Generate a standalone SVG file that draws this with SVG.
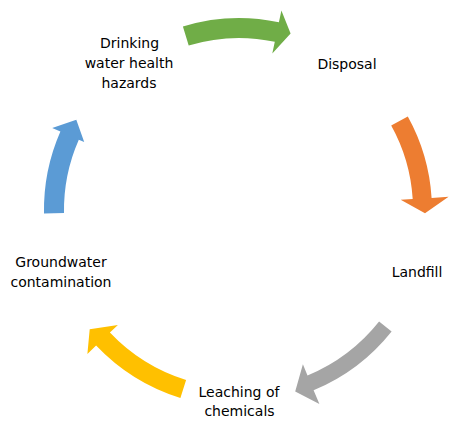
<svg xmlns="http://www.w3.org/2000/svg" width="459" height="428" viewBox="0 0 459 428">
  <style>
    .lbl { font-family: "DejaVu Sans", "Liberation Sans", sans-serif; font-size: 14px; fill: #000000; text-anchor: middle; }
    .arr { stroke: none; }
  </style>
  <rect x="0" y="0" width="459" height="428" fill="#ffffff"/>
  <g id="connectors">
    <path id="arrow-green" class="arr" fill="#70AD47" d="M182.9,26.4 A192,192 0 0 1 278.9,22.2 L281.4,10.5 L290.6,33.4 L272.3,53.5 L274.8,41.8 A172,172 0 0 0 188.7,45.5 Z"/>
    <path id="arrow-orange" class="arr" fill="#ED7D31" d="M407.8,116.4 A193,193 0 0 1 431.6,197.9 L448.6,196.8 L425,213.2 L400.7,199.8 L412.7,199.1 A174,174 0 0 0 391.2,125.6 Z"/>
    <path id="arrow-gray" class="arr" fill="#A5A5A5" d="M391.6,331.4 A195,195 0 0 1 313.6,390.2 L319.4,404 L295.2,391.5 L302.9,364.3 L307.5,375.4 A179,179 0 0 0 379.1,321.4 Z"/>
    <path id="arrow-yellow" class="arr" fill="#FFC000" d="M180.4,398.1 A197,197 0 0 1 96.1,345.6 L87.4,353.9 L89.7,329.2 L117.9,325 L109.9,332.5 A178,178 0 0 0 186.1,380 Z"/>
    <path id="arrow-blue" class="arr" fill="#5B9BD5" d="M44,213.4 A195,195 0 0 1 60.4,131.6 L52.2,128 L76.3,119.8 L84.2,142.1 L78.8,139.7 A175,175 0 0 0 64,213.1 Z"/>
  </g>
  <g id="node-drinking">
    <text class="lbl" x="129.5" y="48">Drinking</text>
    <text class="lbl" x="129" y="68">water health</text>
    <text class="lbl" x="129" y="88">hazards</text>
  </g>
  <g id="node-disposal">
    <text class="lbl" x="347" y="69">Disposal</text>
  </g>
  <g id="node-landfill">
    <text class="lbl" x="417" y="277">Landfill</text>
  </g>
  <g id="node-leaching">
    <text class="lbl" x="239" y="397">Leaching of</text>
    <text class="lbl" x="239.5" y="416">chemicals</text>
  </g>
  <g id="node-groundwater">
    <text class="lbl" x="61" y="267">Groundwater</text>
    <text class="lbl" x="61" y="287">contamination</text>
  </g>
</svg>
